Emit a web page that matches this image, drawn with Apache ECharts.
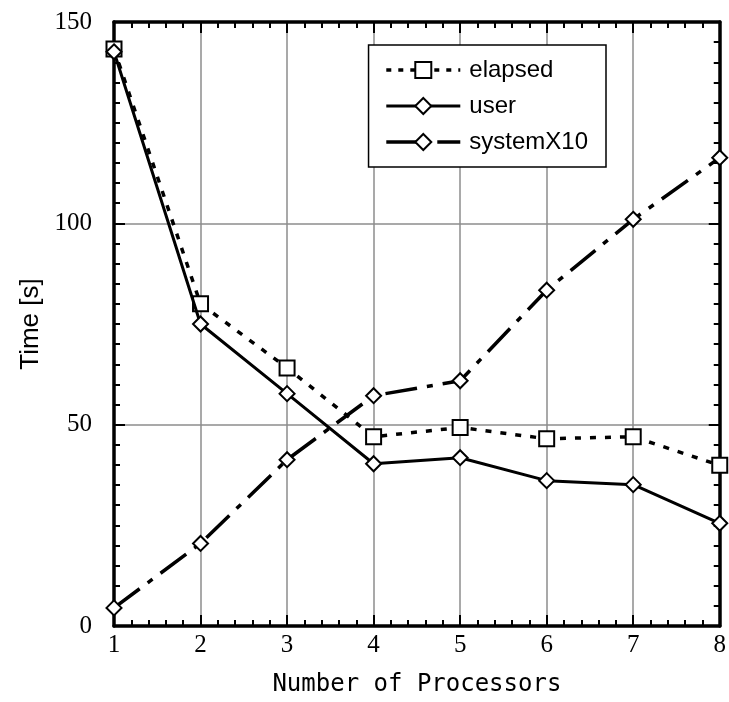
<!DOCTYPE html>
<html>
<head>
<meta charset="utf-8">
<script src="https://cdn.jsdelivr.net/npm/echarts@6/dist/echarts.min.js"></script>
<style>
  html, body { margin: 0; padding: 0; background: #fff; }
  #chart { width: 729px; height: 702px; }
</style>
</head>
<body>
<div id="chart"></div>
<script>
const processors = [1, 2, 3, 4, 5, 6, 7, 8];
const elapsed = [143.3, 80.0, 64.1, 47.0, 49.3, 46.5, 47.0, 39.9];
const user = [142.6, 75.0, 57.7, 40.3, 41.8, 36.1, 35.1, 25.5];
const systemX10 = [4.5, 20.5, 41.3, 57.2, 60.9, 83.4, 101.0, 116.3];

const pairs = (ys) => processors.map((x, i) => [x, ys[i]]);

const chart = echarts.init(document.getElementById('chart'));

const tickFont = { fontFamily: 'Liberation Serif', fontSize: 25, color: '#000' };
const axisLine = { show: true, onZero: false, lineStyle: { color: '#000', width: 3.5 } };
const majorTick = { inside: true, length: 11, lineStyle: { color: '#000', width: 2 } };
const minorTick = (n) => ({ show: true, splitNumber: n, length: 6, lineStyle: { color: '#000', width: 2 } });

const elapsedLine = { color: '#000', width: 3.5, type: [6, 9] };
const userLine = { color: '#000', width: 3 };
const systemLine = { color: '#000', width: 3.5, type: [32, 10, 6, 10] };

const option = {
  animation: false,
  backgroundColor: '#fff',
  grid: { left: 114, right: 9, top: 22, bottom: 74, containLabel: false },
  legend: {
    right: 123, top: 45,
    orient: 'vertical',
    backgroundColor: '#fff',
    borderColor: '#000',
    borderWidth: 1.5,
    borderRadius: 0,
    padding: [13, 18, 13, 16],
    itemGap: 12,
    itemWidth: 74,
    itemHeight: 20,
    textStyle: { fontFamily: 'Liberation Sans', fontSize: 24, color: '#000', padding: [0, 0, 0, 4] },
    data: [
      { name: 'elapsed', lineStyle: Object.assign({}, elapsedLine, { type: [5, 7] }) },
      { name: 'user', lineStyle: userLine },
      { name: 'systemX10', lineStyle: Object.assign({}, systemLine, { type: [30, 8, 5, 8] }) }
    ]
  },
  xAxis: [
    {
      type: 'value', min: 1, max: 8, interval: 1,
      name: 'Number of Processors', nameLocation: 'middle', nameGap: 47,
      nameTextStyle: { fontFamily: 'DejaVu Sans Mono', fontSize: 24, color: '#000' },
      axisLine: axisLine,
      axisTick: majorTick,
      minorTick: minorTick(5),
      axisLabel: Object.assign({ margin: 7 }, tickFont),
      splitLine: { show: true, lineStyle: { color: '#8c8c8c', width: 1.5 } }
    },
    {
      type: 'value', min: 1, max: 8, interval: 1, position: 'top',
      axisLine: axisLine,
      axisTick: majorTick,
      minorTick: minorTick(5),
      axisLabel: { show: false },
      splitLine: { show: false }
    }
  ],
  yAxis: [
    {
      type: 'value', min: 0, max: 150, interval: 50,
      name: 'Time [s]', nameLocation: 'middle', nameGap: 70, nameRotate: 90,
      nameTextStyle: { fontFamily: 'Liberation Sans', fontSize: 26, color: '#000' },
      axisLine: axisLine,
      axisTick: majorTick,
      minorTick: minorTick(10),
      axisLabel: Object.assign({ margin: 22 }, tickFont),
      splitLine: { show: true, lineStyle: { color: '#8c8c8c', width: 1.5 } }
    },
    {
      type: 'value', min: 0, max: 150, interval: 50, position: 'right',
      axisLine: axisLine,
      axisTick: majorTick,
      minorTick: minorTick(10),
      axisLabel: { show: false },
      splitLine: { show: false }
    }
  ],
  series: [
    {
      name: 'elapsed', type: 'line', data: pairs(elapsed),
      symbol: 'rect', symbolSize: 15,
      lineStyle: elapsedLine,
      itemStyle: { color: '#fff', borderColor: '#000', borderWidth: 2 },
      z: 3
    },
    {
      name: 'user', type: 'line', data: pairs(user),
      symbol: 'diamond', symbolSize: [15, 15],
      lineStyle: userLine,
      itemStyle: { color: '#fff', borderColor: '#000', borderWidth: 2 },
      z: 4
    },
    {
      name: 'systemX10', type: 'line', data: pairs(systemX10),
      symbol: 'diamond', symbolSize: [15, 15],
      lineStyle: systemLine,
      itemStyle: { color: '#fff', borderColor: '#000', borderWidth: 2 },
      z: 4
    }
  ]
};

chart.setOption(option);
window.addEventListener('resize', () => chart.resize());
</script>
</body>
</html>
